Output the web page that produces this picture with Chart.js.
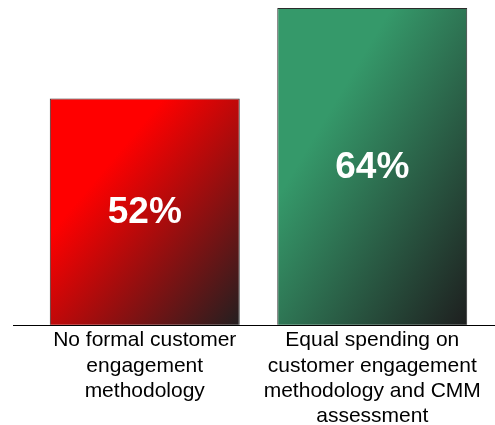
<!DOCTYPE html>
<html>
<head>
<meta charset="utf-8">
<script src="https://cdn.jsdelivr.net/npm/chart.js@4/dist/chart.umd.min.js"></script>
<style>
  html, body { margin: 0; padding: 0; background: #ffffff; }
  #wrap { width: 495px; height: 425px; position: relative; }
</style>
</head>
<body>
<div id="wrap"><canvas id="c"></canvas></div>
<script>
// Share of respondents per customer-engagement approach
const categories = [
  ['No formal customer', 'engagement', 'methodology'],
  ['Equal spending on', 'customer engagement', 'methodology and CMM', 'assessment']
];
const shares = [52, 64];
const valueLabels = ['52%', '64%'];

// Gradient end colours per bar: light top-left, dark bottom-right
const gradStart = ['#FF0000', '#35996A'];
const gradEnd = ['#231F20', '#1E1F1F'];

const Y_MIN = 22;
const Y_MAX = 64;
const BAR_PCT = 0.835;

function barGradient(ctx) {
  const chart = ctx.chart;
  const i = ctx.dataIndex;
  const xs = chart.scales.x, ys = chart.scales.y;
  if (!chart.chartArea || !xs || !ys || i === undefined) return gradStart[i || 0];
  const cx = xs.getPixelForValue(i);
  const w = (xs.width / categories.length) * BAR_PCT;
  const x0 = cx - w / 2;
  const y0 = ys.getPixelForValue(shares[i]);
  const h = ys.getPixelForValue(Y_MIN) - y0;
  // diagonal gradient whose bands run parallel to the rectangle's anti-diagonal
  const k = (2 * w * h) / (h * h + w * w);
  const g = chart.ctx.createLinearGradient(x0, y0, x0 + h * k, y0 + w * k);
  g.addColorStop(0, gradStart[i]);
  g.addColorStop(0.3, gradStart[i]);
  g.addColorStop(1, gradEnd[i]);
  return g;
}

// Baseline under the bars and the white value inside each bar
const decorations = {
  id: 'decorations',
  afterDatasetsDraw(chart) {
    const { ctx } = chart;
    const ys = chart.scales.y;
    const basePx = ys.getPixelForValue(Y_MIN);
    const base = Math.round(basePx) + 0.5;
    ctx.save();
    ctx.strokeStyle = '#000000';
    ctx.lineWidth = 1.2;
    ctx.beginPath();
    ctx.moveTo(13, base);
    ctx.lineTo(chart.width, base);
    ctx.stroke();

    const meta = chart.getDatasetMeta(0);
    ctx.fillStyle = '#ffffff';
    ctx.font = 'bold 37px "Liberation Sans", Arial, sans-serif';
    ctx.textAlign = 'center';
    ctx.textBaseline = 'middle';
    meta.data.forEach((bar, i) => {
      const top = ys.getPixelForValue(shares[i]);
      ctx.fillText(valueLabels[i], bar.x, (top + basePx) / 2 + 1);
    });
    ctx.restore();
  }
};

new Chart(document.getElementById('c'), {
  type: 'bar',
  data: {
    labels: categories,
    datasets: [{
      data: shares,
      backgroundColor: barGradient,
      borderColor: '#2b2b2b',
      borderWidth: 1,
      borderSkipped: false,
      barPercentage: BAR_PCT,
      categoryPercentage: 1.0
    }]
  },
  options: {
    responsive: true,
    maintainAspectRatio: false,
    animation: false,
    layout: { padding: { left: 31, right: 9, top: 8, bottom: -7 } },
    plugins: {
      legend: { display: false },
      tooltip: { enabled: false }
    },
    scales: {
      x: {
        grid: { display: false, drawTicks: false },
        border: { display: false },
        ticks: {
          color: '#000000',
          padding: 3,
          maxRotation: 0,
          autoSkip: false,
          font: { family: '"Liberation Sans", Arial, sans-serif', size: 21, lineHeight: 1.205 }
        }
      },
      y: {
        display: false,
        min: Y_MIN,
        max: Y_MAX
      }
    }
  },
  plugins: [decorations]
});
</script>
</body>
</html>
